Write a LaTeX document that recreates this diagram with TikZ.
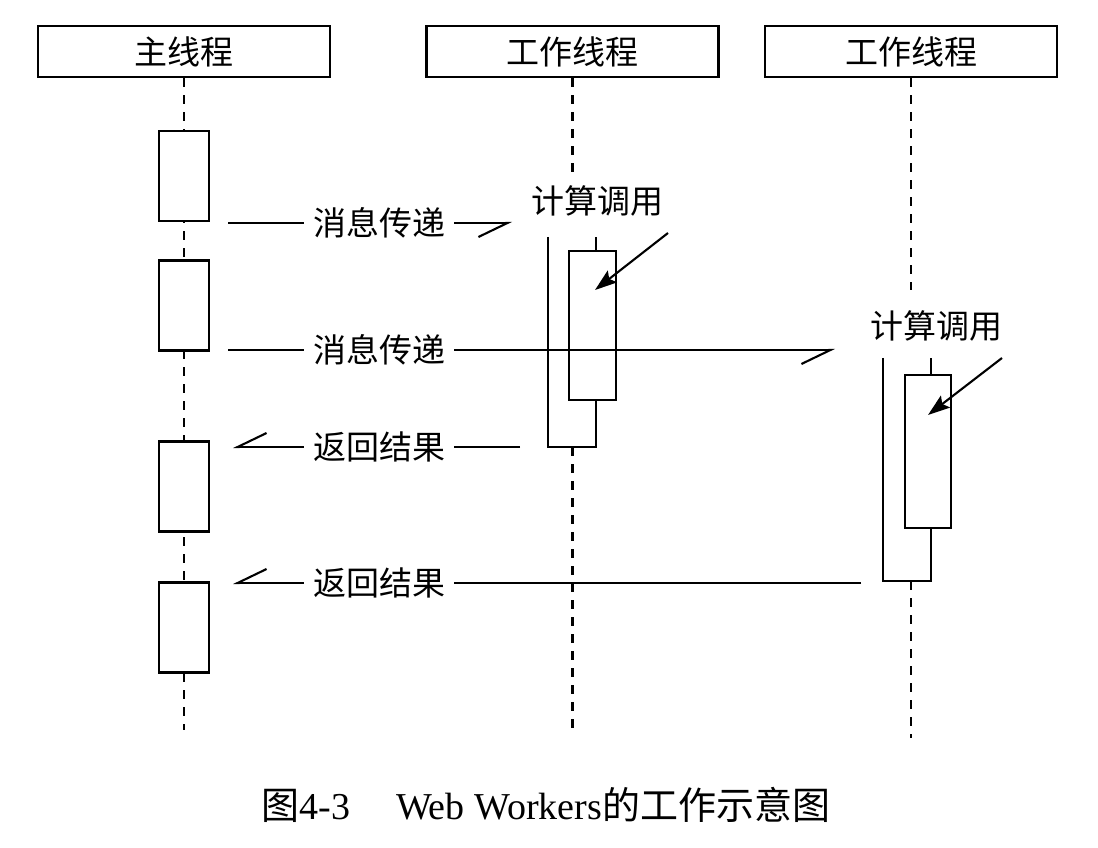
\documentclass[tikz,border=0pt]{standalone}
\usepackage{fontspec}
\setmainfont{Liberation Serif}
\newfontfamily\cjk{Noto Sans CJK SC}
\usepackage{tikz}
\usetikzlibrary{arrows.meta}

\begin{document}
\begin{tikzpicture}
    [
      x = 1pt, y = -1pt,
      thread/.style = {draw, line width=2.3pt, minimum width=292pt, minimum height=51pt, inner sep=0pt, font=\cjk\fontsize{33}{36}\selectfont},
      act/.style = {draw, fill=white, line width=2.3pt, inner sep=0pt},
      hold/.style = {fill=white, inner sep=0pt},
      life/.style = {line width=2.3pt, dash pattern=on 9pt off 8pt},
      msg/.style = {line width=2.1pt, -{Straight Barb[harpoon,swap,length=29pt,width=28pt]}},
      call/.style = {line width=2.1pt, -{Stealth[length=22pt,width=15pt,inset=4pt]}},
      lbl/.style = {fill=white, inner xsep=9pt, inner ysep=2pt, font=\cjk\fontsize{33}{36}\selectfont},
    ]

    \useasboundingbox (0,0) rectangle (1098,848);

    \node[thread] (main) at (184,51.5) {主线程};
    \node[thread] (work1) at (572.5,51.5) {工作线程};
    \node[thread] (work2) at (911,51.5) {工作线程};

    \coordinate (mainend) at (184,730);
    \coordinate (w1top) at (572.5,175);
    \coordinate (w1end) at (572.5,730);
    \coordinate (w2top) at (911,290);
    \coordinate (w2end) at (911,738);

    \node[hold, minimum width=48pt, minimum height=210pt] (w1o) at (572,342) {};
    \node[hold, minimum width=48pt, minimum height=223pt] (w2o) at (907,469.5) {};

    \draw[life] (main.south) -- (mainend);
    \draw[life] (work1.south) -- (w1top);
    \draw[life] (w1o.south -| work1) -- (w1end);
    \draw[life] (work2.south) -- (w2top);
    \draw[life] (w2o.south -| work2) -- (w2end);

    \node[act, minimum width=50pt, minimum height=90pt] (mb1) at (184,176) {};
    \node[act, minimum width=50pt, minimum height=90pt] (mb2) at (184,305.5) {};
    \node[act, minimum width=50pt, minimum height=90pt] (mb3) at (184,486.5) {};
    \node[act, minimum width=50pt, minimum height=90pt] (mb4) at (184,627.5) {};

    \node[hold, minimum width=48pt, minimum height=210pt] at (w1o) {};
    \draw[line width=2.3pt] (w1o.north west) -- (w1o.south west) -- (w1o.south east) -- (w1o.north east);
    \node[act, minimum width=47pt, minimum height=149pt] (w1i) at (592.5,325.5) {};

    \node[hold, minimum width=48pt, minimum height=223pt] at (w2o) {};
    \draw[line width=2.3pt] (w2o.north west) -- (w2o.south west) -- (w2o.south east) -- (w2o.north east);
    \node[act, minimum width=46pt, minimum height=153pt] (w2i) at (928,451.5) {};

    \coordinate (m1a) at (228,223);
    \coordinate (m1b) at (512,223);
    \coordinate (m2a) at (228,350);
    \coordinate (m2b) at (835,350);
    \coordinate (r1a) at (520,447);
    \coordinate (r1b) at (233,447);
    \coordinate (r2a) at (861,583);
    \coordinate (r2b) at (233,583);

    \draw[msg] (m1a) -- (m1b);
    \draw[msg] (m2a) -- (m2b);
    \draw[msg] (r1a) -- (r1b);
    \draw[msg] (r2a) -- (r2b);

    \node[lbl] (send1) at (379,223) {消息传递};
    \node[lbl] (send2) at (379,350) {消息传递};
    \node[lbl] (back1) at (379,447) {返回结果};
    \node[lbl] (back2) at (379,583) {返回结果};

    \node[font=\cjk\fontsize{33}{36}\selectfont] (call1) at (597,201) {计算调用};
    \node[font=\cjk\fontsize{33}{36}\selectfont] (call2) at (936,326) {计算调用};

    \coordinate (c1a) at (668,233);
    \coordinate (c1b) at (595,290);
    \coordinate (c2a) at (1002,358);
    \coordinate (c2b) at (928,415);
    \draw[call] (c1a) -- (c1b);
    \draw[call] (c2a) -- (c2b);

    \node[font=\fontsize{38}{40}\selectfont] (caption) at (546,805) {{\cjk 图}4-3\hspace{1.2em}Web Workers{\cjk 的工作示意图}};
  \end{tikzpicture}
\end{document}
